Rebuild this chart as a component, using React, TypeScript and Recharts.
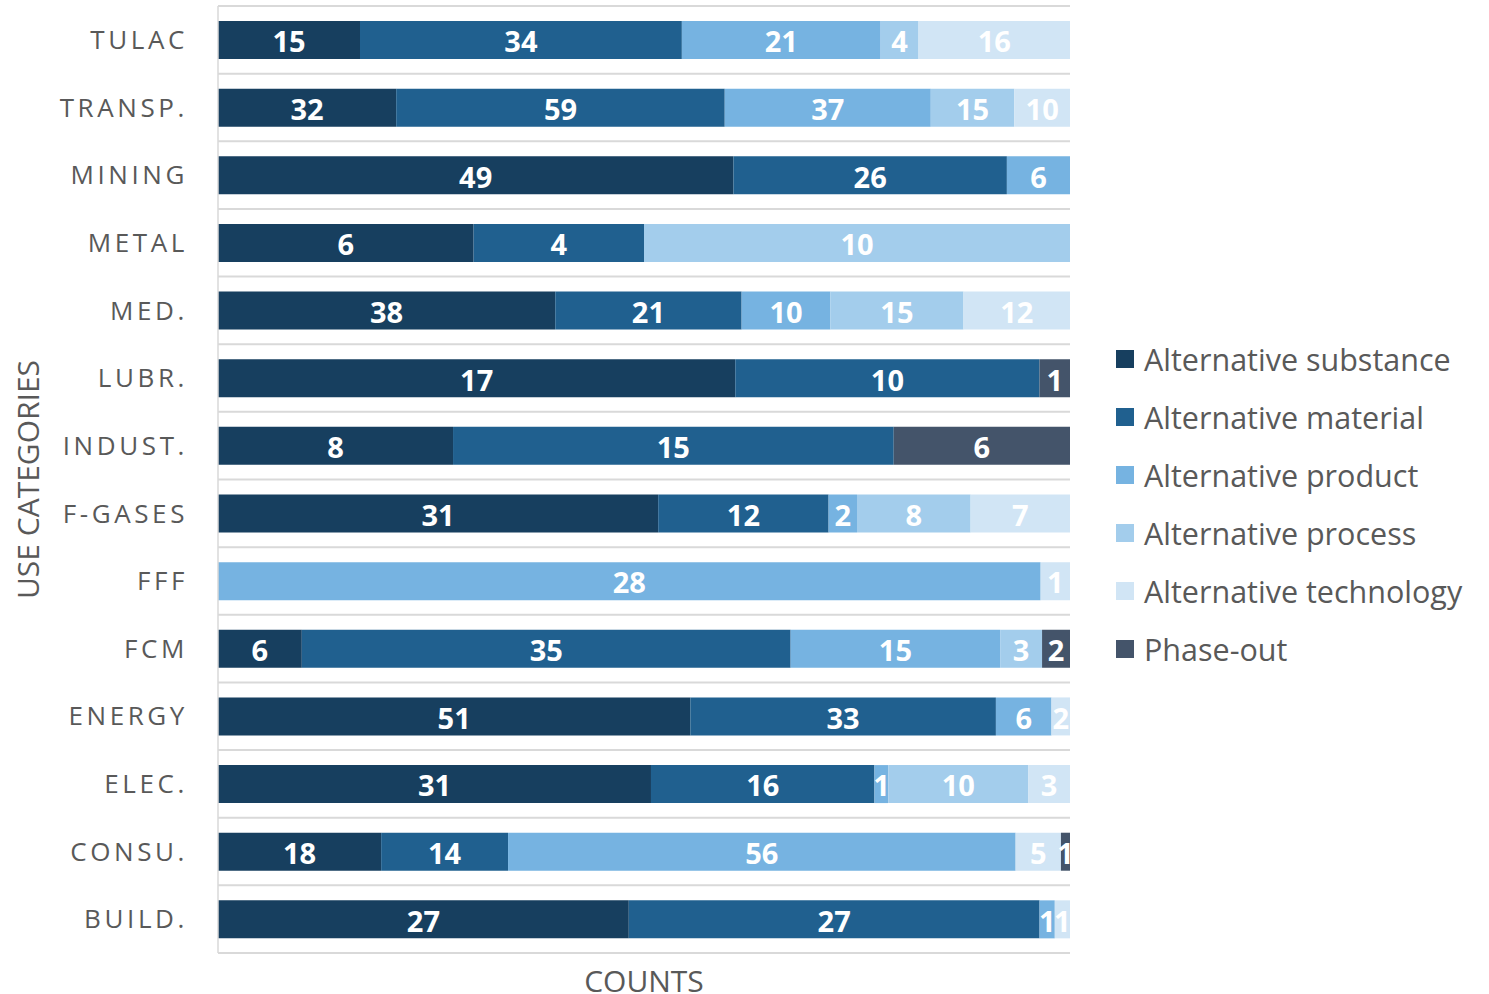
import {
  BarChart,
  Bar,
  XAxis,
  YAxis,
  CartesianGrid,
  Legend,
  LabelList,
} from "recharts";

const categories = [
  "TULAC",
  "TRANSP.",
  "MINING",
  "METAL",
  "MED.",
  "LUBR.",
  "INDUST.",
  "F-GASES",
  "FFF",
  "FCM",
  "ENERGY",
  "ELEC.",
  "CONSU.",
  "BUILD.",
];

const substance = [15, 32, 49, 6, 38, 17, 8, 31, 0, 6, 51, 31, 18, 27];
const material = [34, 59, 26, 4, 21, 10, 15, 12, 0, 35, 33, 16, 14, 27];
const product = [21, 37, 6, 0, 10, 0, 0, 2, 28, 15, 6, 1, 56, 1];
const process = [4, 15, 0, 10, 15, 0, 0, 8, 0, 3, 0, 10, 0, 0];
const technology = [16, 10, 0, 0, 12, 0, 0, 7, 1, 0, 2, 3, 5, 1];
const phaseOut = [0, 0, 0, 0, 0, 1, 6, 0, 0, 2, 0, 0, 1, 0];

const series = [
  { key: "substance", name: "Alternative substance", color: "#173f5f", values: substance },
  { key: "material", name: "Alternative material", color: "#20608f", values: material },
  { key: "product", name: "Alternative product", color: "#76b3e1", values: product },
  { key: "process", name: "Alternative process", color: "#a3cdec", values: process },
  { key: "technology", name: "Alternative technology", color: "#d1e5f5", values: technology },
  { key: "phaseOut", name: "Phase-out", color: "#44546a", values: phaseOut },
];

const chartData = categories.map((name, i) => {
  const row: Record<string, string | number> = { name };
  series.forEach((s) => {
    row[s.key] = s.values[i];
  });
  return row;
});

const gray = "#595959";
const textFont = "'Open Sans', 'Noto Sans', sans-serif";
const labelFont = "'Liberation Sans Narrow', 'Open Sans', sans-serif";

// keep legend in series order (Recharts sorts by name otherwise)
function LegendBox({ payload }: any) {
  const order = series.map((s) => s.name);
  const items = [...(payload || [])].sort(
    (a: any, b: any) => order.indexOf(a.value) - order.indexOf(b.value)
  );
  return (
    <div
      style={{
        width: 400,
        paddingLeft: 46,
        paddingTop: 14,
        boxSizing: "border-box",
        fontFamily: textFont,
      }}
    >
      {items.map((p: any) => (
        <div
          key={p.value}
          style={{ display: "flex", alignItems: "center", height: 58.2 }}
        >
          <span
            style={{
              display: "inline-block",
              width: 18,
              height: 18,
              background: p.color,
              marginRight: 10,
            }}
          />
          <span style={{ fontSize: 30.5, color: gray, whiteSpace: "nowrap" }}>{p.value}</span>
        </div>
      ))}
    </div>
  );
}

export default function App() {
  return (
    <div style={{ position: "absolute", left: 0, top: 0, background: "#fff" }}>
      <BarChart
        width={1489}
        height={994}
        data={chartData}
        layout="vertical"
        stackOffset="expand"
        margin={{ top: 6, right: 19, left: 0, bottom: 0 }}
      >
        <CartesianGrid
          vertical={false}
          stroke="#d9d9d9"
          strokeWidth={2}
          horizontalCoordinatesGenerator={({ offset }: any) =>
            Array.from(
              { length: categories.length + 1 },
              (_, i) => offset.top + (i * offset.height) / categories.length
            )
          }
        />
        <XAxis
          type="number"
          domain={[0, 1]}
          tick={false}
          tickLine={false}
          axisLine={false}
          height={41}
          label={{
            value: "COUNTS",
            position: "insideBottom",
            offset: 2,
            fill: gray,
            fontSize: 30,
            fontFamily: textFont,
          }}
        />
        <YAxis
          type="category"
          dataKey="name"
          width={218}
          tickLine={false}
          tickSize={0}
          tickMargin={30}
          axisLine={{ stroke: "#d9d9d9", strokeWidth: 1.5 }}
          tick={{
            fill: gray,
            fontSize: 26,
            fontFamily: textFont,
            letterSpacing: 3.6,
          }}
          label={{
            value: "USE CATEGORIES",
            angle: -90,
            position: "insideLeft",
            offset: 28,
            fill: gray,
            fontSize: 30,
            fontFamily: textFont,
            style: { textAnchor: "middle" },
          }}
        />
        <Legend
          layout="vertical"
          align="right"
          verticalAlign="middle"
          content={<LegendBox />}
        />
        {series.map((s) => (
          <Bar
            key={s.key}
            dataKey={s.key}
            name={s.name}
            stackId="a"
            fill={s.color}
            barSize={38}
            isAnimationActive={false}
          >
            <LabelList
              dataKey={s.key}
              position="center"
              fill="#fff"
              fontSize={29}
              fontWeight="bold"
              fontFamily={labelFont}
              dy={2}
              formatter={(v: any) => (Number(v) > 0 ? v : "")}
            />
          </Bar>
        ))}
      </BarChart>
    </div>
  );
}
